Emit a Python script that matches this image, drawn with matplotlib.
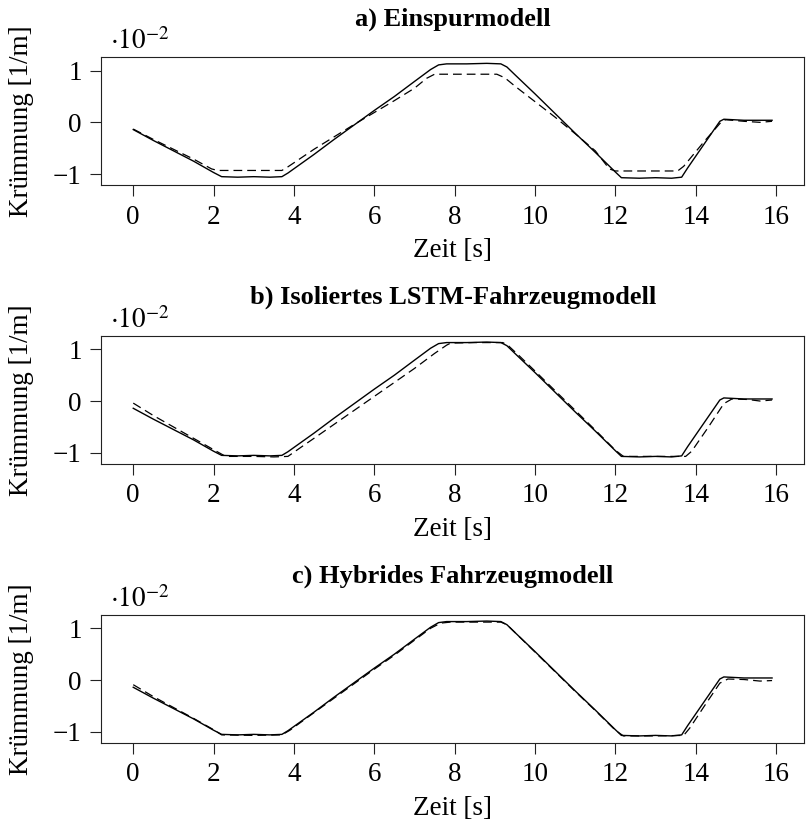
import matplotlib
matplotlib.use("Agg")
import matplotlib.pyplot as plt

plt.rcParams['font.family'] = ['Liberation Serif', 'DejaVu Serif']
plt.rcParams['mathtext.fontset'] = 'stix'

# Reference (solid) curvature, in 1e-2 1/m
ref_t = [0.0, 0.5, 1.0, 1.5, 2.0, 2.2, 2.6, 3.0, 3.4, 3.7, 3.85, 4.5, 5.0, 5.5, 6.0,
         6.5, 7.0, 7.4, 7.6, 7.8, 8.3, 8.8, 9.15, 9.3, 9.5, 10.0, 10.5, 11.0, 11.5,
         12.0, 12.15, 12.6, 13.0, 13.4, 13.65, 13.8, 14.2, 14.6, 14.7, 15.2, 15.6, 15.9]
ref_y = [-0.14, -0.35, -0.55, -0.75, -0.97, -1.05, -1.06, -1.05, -1.06, -1.05, -0.98,
         -0.62, -0.33, -0.05, 0.23, 0.50, 0.79, 1.02, 1.11, 1.13, 1.13, 1.14, 1.13,
         1.07, 0.92, 0.55, 0.17, -0.21, -0.58, -0.96, -1.07, -1.08, -1.07, -1.08,
         -1.06, -0.88, -0.43, 0.02, 0.06, 0.04, 0.04, 0.04]

# a) Einspurmodell (dashed)
esm_t = [0.0, 0.5, 1.0, 1.5, 1.95, 2.1, 3.7, 3.85, 4.5, 5.0, 5.5, 6.0, 6.5, 7.0, 7.3,
         7.5, 9.05, 9.25, 9.5, 10.0, 10.5, 11.0, 11.5, 11.85, 12.0, 13.55, 13.7, 14.2,
         14.65, 14.75, 15.2, 15.6, 15.9]
esm_y = [-0.13, -0.33, -0.52, -0.71, -0.90, -0.93, -0.93, -0.86, -0.52, -0.28, -0.04,
         0.19, 0.42, 0.66, 0.85, 0.93, 0.93, 0.86, 0.70, 0.40, 0.10, -0.22, -0.55,
         -0.90, -0.94, -0.94, -0.85, -0.38, 0.02, 0.05, 0.02, 0.0, 0.02]

# b) Isoliertes LSTM-Fahrzeugmodell (dashed)
lstm_t = [0.0, 0.5, 1.0, 1.5, 2.0, 2.3, 3.0, 3.5, 3.85, 4.2, 4.5, 5.0, 5.5, 6.0, 6.5,
          7.0, 7.5, 7.8, 7.9, 8.5, 9.2, 9.35, 9.6, 10.0, 10.5, 11.0, 11.5, 12.0, 12.2,
          13.0, 13.75, 13.9, 14.3, 14.7, 14.9, 15.3, 15.6, 15.9]
lstm_y = [-0.04, -0.28, -0.50, -0.72, -0.94, -1.07, -1.07, -1.08, -1.07, -0.88, -0.72,
          -0.45, -0.18, 0.09, 0.36, 0.63, 0.92, 1.08, 1.12, 1.13, 1.13, 1.06, 0.88,
          0.58, 0.20, -0.18, -0.56, -0.95, -1.07, -1.07, -1.07, -0.97, -0.52, -0.05,
          0.04, 0.03, 0.0, 0.02]

# c) Hybrides Fahrzeugmodell (dashed)
hyb_t = [0.0, 0.5, 1.0, 1.5, 2.0, 2.2, 3.0, 3.7, 3.9, 4.5, 5.0, 5.5, 6.0, 6.5, 7.0,
         7.4, 7.65, 7.9, 8.5, 9.15, 9.3, 9.5, 10.0, 10.5, 11.0, 11.5, 12.0, 12.2, 13.0,
         13.7, 13.85, 14.2, 14.6, 14.8, 15.2, 15.6, 15.9]
hyb_y = [-0.09, -0.32, -0.53, -0.74, -0.96, -1.06, -1.07, -1.06, -0.97, -0.63, -0.35,
         -0.07, 0.21, 0.48, 0.77, 1.00, 1.10, 1.12, 1.12, 1.12, 1.07, 0.92, 0.54, 0.16,
         -0.22, -0.59, -0.97, -1.08, -1.08, -1.07, -0.93, -0.52, -0.06, 0.02, 0.01,
         -0.02, -0.01]

titles = ["a) Einspurmodell", "b) Isoliertes LSTM-Fahrzeugmodell", "c) Hybrides Fahrzeugmodell"]
models = [(esm_t, esm_y), (lstm_t, lstm_y), (hyb_t, hyb_y)]
xticks = [0, 2, 4, 6, 8, 10, 12, 14, 16]
yticks = [-1, 0, 1]
ytick_labels = ["\u22121", "0", "1"]

W, H = 806, 824
fig = plt.figure(figsize=(W / 100, H / 100), dpi=100)

left_px, right_px = 101.3, 804.0
tops_px = [57.3, 336.0, 615.0]
ax_h_px = 127.8

fs = 19.5
for i, (title, (mt, my)) in enumerate(zip(titles, models)):
    top = tops_px[i]
    ax = fig.add_axes([left_px / W, 1 - (top + ax_h_px) / H,
                       (right_px - left_px) / W, ax_h_px / H])
    ax.plot(ref_t, ref_y, color='black', lw=1.0, solid_joinstyle='round')
    ax.plot(mt, my, color='black', lw=0.9, linestyle=(0, (7, 4)))
    ax.set_xlim(-0.795, 16.695)
    ax.set_ylim(-1.213, 1.257)
    ax.set_xticks(xticks)
    ax.set_xticklabels([str(v) for v in xticks])
    ax.set_yticks(yticks)
    ax.set_yticklabels(ytick_labels)
    ax.tick_params(axis='both', direction='out', length=8, width=0.8, labelsize=fs,
                   color='#222222')
    ax.tick_params(axis='x', pad=6)
    ax.tick_params(axis='y', pad=6)
    for s in ax.spines.values():
        s.set_linewidth(0.8)
        s.set_color('#222222')
    ax.set_title(title, fontsize=19, fontweight='bold', pad=23)
    ax.set_xlabel("Zeit [s]", fontsize=fs, labelpad=6)
    ax.set_ylabel("Krümmung [1/m]", fontsize=fs, labelpad=14)
    ax.text(0.012, 1.015, r"$\cdot 10^{-2}$", transform=ax.transAxes, fontsize=fs,
            ha='left', va='bottom')

fig.savefig("out.png", dpi=100)
